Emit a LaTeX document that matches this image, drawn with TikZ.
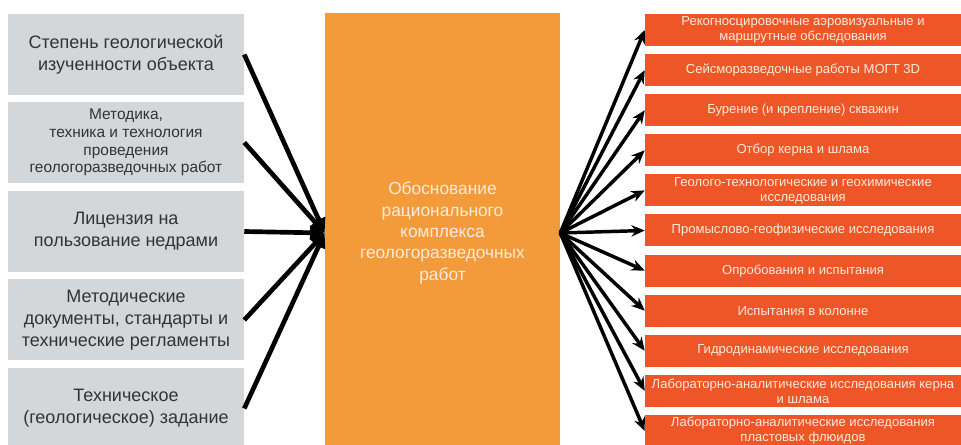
\documentclass[tikz,border=0pt]{standalone}
\usepackage{fontspec}
\setmainfont{Liberation Sans}
\usetikzlibrary{arrows.meta}
\definecolor{factorgray}{HTML}{D3D7DA}
\definecolor{factortext}{HTML}{333333}
\definecolor{goalorange}{HTML}{F39B3B}
\definecolor{workred}{HTML}{EE5527}
\definecolor{lighttext}{HTML}{FDEBDD}
\tikzset{
	factor/.style={fill=factorgray, text=factortext, minimum width=177pt,
		minimum height=60.75pt, align=center, inner sep=0pt,
		font=\fontsize{13.5}{16.5}\selectfont},
	goal/.style={fill=goalorange, text=lighttext, minimum width=176.25pt,
		minimum height=330pt, align=center, inner sep=0pt,
		font=\fontsize{13}{16}\selectfont},
	work/.style={fill=workred, text=lighttext, minimum width=237pt,
		minimum height=24pt, align=center, inner sep=0pt,
		font=\fontsize{9.8}{11.2}\selectfont},
	inarrow/.style={-{Triangle[length=11pt,width=10pt]}, line width=3.5pt},
	outarrow/.style={-{Stealth[length=10pt,width=8.5pt]}, line width=2.6pt}
}
\begin{document}
\begin{tikzpicture}[x=0.75pt,y=-0.75pt]
		\useasboundingbox[fill=white] (0,0) rectangle (961,445);
		% Faktoren
		\node[factor] (l1) at (126,54.5) {Степень геологической\\изученности объекта};
		\node[factor, font=\fontsize{11.6}{13.2}\selectfont] (l2) at (126,142.5)
			{Методика,\\техника и технология\\проведения\\геологоразведочных работ};
		\node[factor] (l3) at (126,231.5) {Лицензия на\\пользование недрами};
		\node[factor] (l4) at (126,320) {Методические\\документы, стандарты и\\технические регламенты};
		\node[factor] (l5) at (126,408.5) {Техническое\\(геологическое) задание};
		% Ziel
		\node[goal] (goal) at (442.5,233) {Обоснование\\рационального\\комплекса\\геологоразведочных\\работ};
		% Arbeiten
		\foreach \txt [count=\i] in {
			{Рекогносцировочные аэровизуальные и\\маршрутные обследования},
			{Сейсморазведочные работы МОГТ 3D},
			{Бурение (и крепление) скважин},
			{Отбор керна и шлама},
			{Геолого-технологические и геохимические\\исследования},
			{Промыслово-геофизические исследования},
			{Опробования и испытания},
			{Испытания в колонне},
			{Гидродинамические исследования},
			{Лабораторно-аналитические исследования керна\\и шлама},
			{Лабораторно-аналитические исследования\\пластовых флюидов}}
			\node[work] (r\i) at (803,{30+40.1*(\i-1)}) {\txt};
		% Pfeile
		\foreach \i in {1,...,5}
			\draw[inarrow] (l\i.east) -- (goal.west);
		\foreach \i in {1,...,11}
			\draw[outarrow] (goal.east) -- (r\i.west);
	\end{tikzpicture}
\end{document}
